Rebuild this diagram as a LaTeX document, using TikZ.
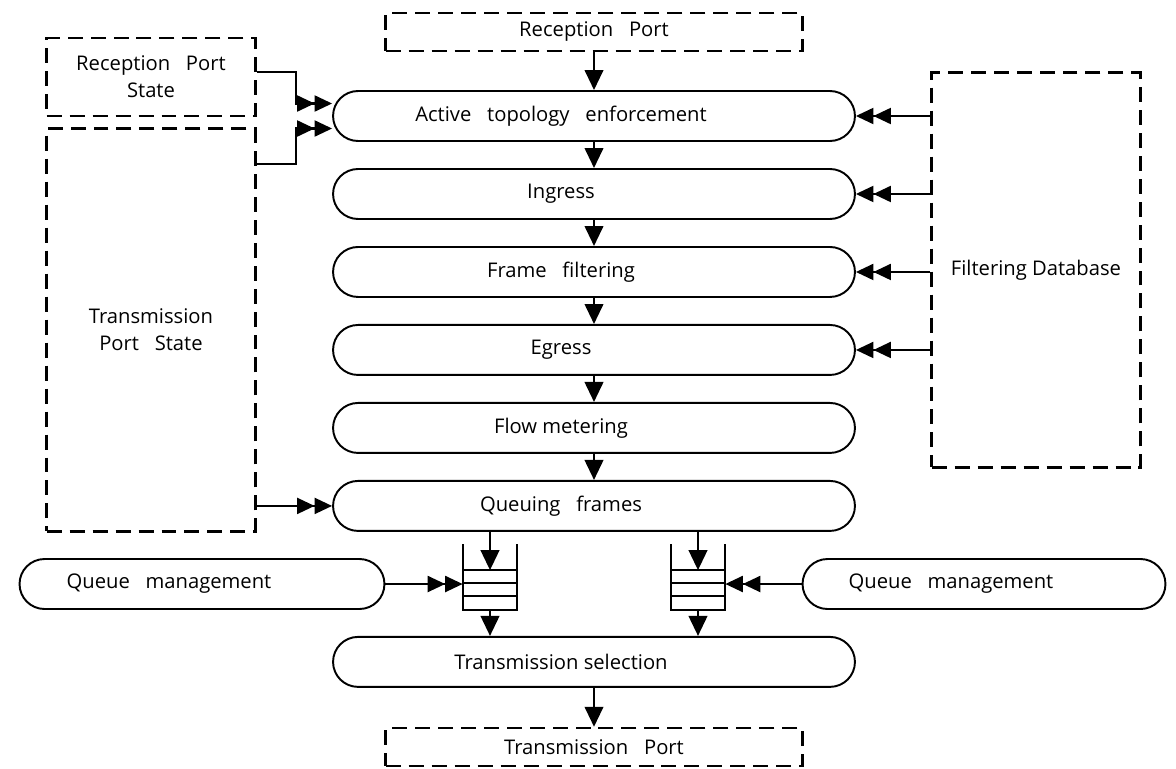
\documentclass[tikz,border=0pt]{standalone}
\usepackage{fontspec}
\setmainfont{Open Sans}
\usetikzlibrary{arrows.meta}
\tikzstyle{process} = [rectangle, 
minimum width=10.44cm, 
minimum height=1cm, 
draw=black, 
line width=1.1pt,
fill=white,
rounded corners=0.5cm,
execute at end node={\hspace{1.32cm}}]
\tikzstyle{manage} = [process, 
minimum width=7.3cm]
\tikzstyle{port} = [rectangle, 
draw=black, 
line width=1.4pt,
dash pattern=on 0.3cm off 0.16cm,
align=center]
\tikzstyle{widesp} = [execute at begin node={\spaceskip=0.78em\relax}]
\tikzstyle{queue} = [rectangle, 
minimum width=1.08cm, 
minimum height=0.78cm, 
inner sep=0pt]
\tikzstyle{arrow} = [line width=1.4pt,->,>={Triangle[length=0.4cm,width=0.37cm]}]
\tikzstyle{dblarrow} = [line width=1.2pt,->>,>={Triangle[length=0.35cm,width=0.32cm]}]

\begin{document}
\begin{tikzpicture}[x=0.02cm, y=-0.02cm, node distance=1.56cm, font=\fontsize{11.5}{15.5}\selectfont]
  \useasboundingbox (0,0) rectangle (1176,768);

  \node at (594,32) (rxport) [port, widesp, minimum width=8.34cm, minimum height=0.76cm] {Reception Port};
  \node at (151,77) (rxstate) [port, widesp, minimum width=4.18cm, minimum height=1.56cm] {Reception Port\\State};
  \node at (151,330) (txstate) [port, widesp, minimum width=4.18cm, minimum height=8.06cm] {Transmission\\Port State};
  \node at (1036,270) (fdb) [port, minimum width=4.18cm, minimum height=7.9cm] {Filtering Database};

  \node at (594,116) (active) [process, widesp] {Active topology enforcement};
  \node (ingress) [process, below of=active] {Ingress};
  \node (filter) [process, widesp, below of=ingress] {Frame filtering};
  \node (egress) [process, below of=filter] {Egress};
  \node (metering) [process, below of=egress] {Flow metering};
  \node (queuing) [process, widesp, below of=metering] {Queuing frames};
  \node (tsel) [process, below of=queuing, yshift=-1.56cm] {Transmission selection};
  \node at (594,747) (txport) [port, widesp, minimum width=8.34cm, minimum height=0.76cm] {Transmission Port};

  \node at (202,584) (qmleft) [manage, widesp] {Queue management};
  \node at (984,584) (qmright) [manage, widesp, minimum width=7.26cm] {Queue management};
  \node at (490,590) (qleft) [queue] {};
  \node at (698,590) (qright) [queue] {};

  % queue symbols
  \foreach \q in {qleft, qright} {
    \draw [line width=1.3pt] ([yshift=0.52cm]\q.north west) -- (\q.south west) -- (\q.south east) -- ([yshift=0.52cm]\q.north east);
    \draw [line width=1.3pt] (\q.north west) -- (\q.north east);
    \draw [line width=1.3pt] ([yshift=-0.26cm]\q.north west) -- ([yshift=-0.26cm]\q.north east);
    \draw [line width=1.3pt] ([yshift=-0.52cm]\q.north west) -- ([yshift=-0.52cm]\q.north east);
  }

  \draw [arrow] (rxport) -- (active);
  \draw [arrow] (active) -- (ingress);
  \draw [arrow] (ingress) -- (filter);
  \draw [arrow] (filter) -- (egress);
  \draw [arrow] (egress) -- (metering);
  \draw [arrow] (metering) -- (queuing);
  \draw [arrow] (queuing.south -| qleft) -- (qleft.north);
  \draw [arrow] (queuing.south -| qright) -- (qright.north);
  \draw [arrow] (qleft.south) -- (tsel.north -| qleft);
  \draw [arrow] (qright.south) -- (tsel.north -| qright);
  \draw [arrow] (tsel) -- (txport);

  \draw [dblarrow] ([yshift=0.1cm]rxstate.east) -- ++(0.78cm,0) |- ([yshift=0.25cm]active.west);
  \draw [dblarrow] ([yshift=-0.74cm]txstate.north east) -- ++(0.78cm,0) |- ([yshift=-0.25cm]active.west);
  \draw [dblarrow] (txstate.east |- queuing) -- (queuing.west);
  \foreach \n in {active, ingress, filter, egress}
    \draw [dblarrow] (fdb.west |- \n) -- (\n.east);
  \draw [dblarrow] (qmleft.east) -- (qleft.west |- qmleft);
  \draw [dblarrow] (qmright.west) -- (qright.east |- qmright);
\end{tikzpicture}
\end{document}
